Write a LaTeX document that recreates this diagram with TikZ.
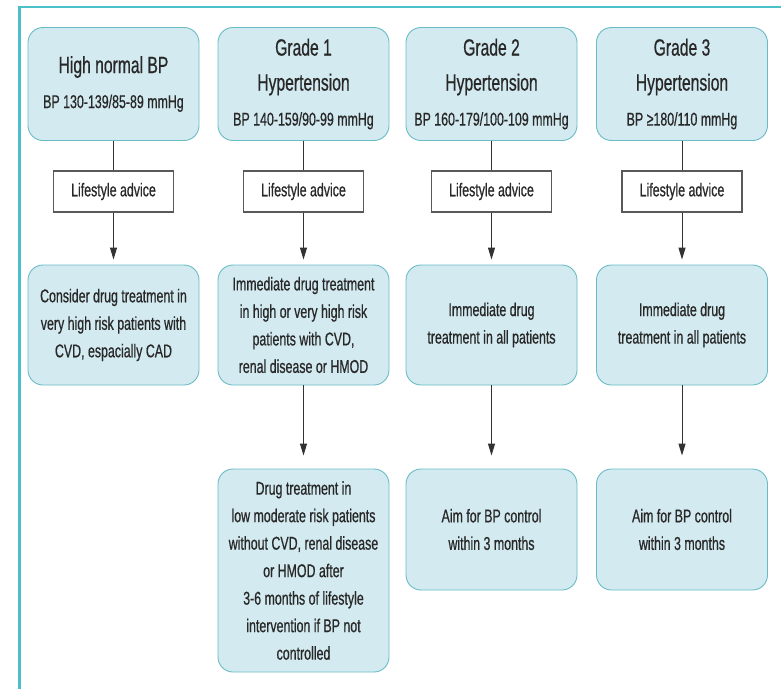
\documentclass[tikz,border=0pt]{standalone}
\usepackage{fontspec}
\setmainfont{Liberation Sans}[FakeStretch=0.67, FakeBold=0.6]
\usetikzlibrary{
    arrows.meta,
    positioning
}
\definecolor{boxfill}{RGB}{211, 234, 240}
\definecolor{boxline}{RGB}{105, 188, 198}
\definecolor{frameteal}{RGB}{75, 192, 202}
\definecolor{txtgray}{RGB}{40, 40, 40}
\newcommand{\bodyfont}{\fontsize{18.5}{27.5}\selectfont}
\newcommand{\headfont}{\fontsize{23.4}{35}\selectfont}

\begin{document}
\begin{tikzpicture}[
        x=1pt, y=-1pt,
        box/.style={rectangle, draw=boxline, fill=boxfill, line width=0.9pt, rounded corners=15pt, minimum width=171pt, align=center, text=txtgray, font=\bodyfont},
        head/.style={box, minimum height=113pt, font=\headfont},
        advice/.style={rectangle, draw=black!65, fill=white, line width=1.3pt, minimum width=120pt, minimum height=41pt, text=txtgray, font=\bodyfont},
        link/.style={line width=1pt, draw=black!80},
        arrow/.style={link, -{Triangle[length=12pt, width=7pt]}},
        frame/.style={line width=2.5pt, draw=frameteal}
    ]
        \useasboundingbox (0,0) rectangle (781,689);

        % Frame
        \draw[frame] (18,7) -- (781,7);
        \draw[frame] (19.5,5.8) -- (19.5,689);

        % Grades
        \node[head] (normal) at (113.5,84) {High normal BP\\{\bodyfont BP 130-139/85-89 mmHg}};
        \node[head] (g1) at (303.5,84) {Grade 1\\Hypertension\\{\bodyfont BP 140-159/90-99 mmHg}};
        \node[head] (g2) at (491.5,84) {Grade 2\\Hypertension\\{\bodyfont BP 160-179/100-109 mmHg}};
        \node[head] (g3) at (682,84) {Grade 3\\Hypertension\\{\bodyfont BP ≥180/110 mmHg}};

        % Lifestyle
        \node[advice] (adv0) at (113.5,191.5) {Lifestyle advice};
        \node[advice] (adv1) at (303.5,191.5) {Lifestyle advice};
        \node[advice] (adv2) at (491.5,191.5) {Lifestyle advice};
        \node[advice] (adv3) at (682,191.5) {Lifestyle advice};

        % Treatment
        \node[box, minimum height=120pt] (cons0) at (113.5,325) {Consider drug treatment in\\very high risk patients with\\CVD, espacially CAD};
        \node[box, minimum height=120pt] (imm1) at (303.5,325) {Immediate drug treatment\\in high or very high risk\\patients with CVD,\\renal disease or HMOD};
        \node[box, minimum height=120pt] (imm2) at (491.5,325) {Immediate drug\\treatment in all patients};
        \node[box, minimum height=120pt] (imm3) at (682,325) {Immediate drug\\treatment in all patients};

        % Follow-up
        \node[box, minimum height=203pt] (low1) at (303.5,570.5) {Drug treatment in\\low moderate risk patients\\without CVD, renal disease\\or HMOD after\\3-6 months of lifestyle\\intervention if BP not\\controlled};
        \node[box, minimum height=121pt] (aim2) at (491.5,529.5) {Aim for BP control\\within 3 months};
        \node[box, minimum height=121pt] (aim3) at (682,529.5) {Aim for BP control\\within 3 months};

        % Arrows
        \draw[link] (normal) -- (adv0);
        \draw[link] (g1) -- (adv1);
        \draw[link] (g2) -- (adv2);
        \draw[link] (g3) -- (adv3);
        \draw[arrow, shorten >=5pt] (adv0) -- (cons0);
        \draw[arrow, shorten >=5pt] (adv1) -- (imm1);
        \draw[arrow, shorten >=5pt] (adv2) -- (imm2);
        \draw[arrow, shorten >=5pt] (adv3) -- (imm3);
        \draw[arrow, shorten >=13pt] (imm1) -- (low1);
        \draw[arrow, shorten >=13pt] (imm2) -- (aim2);
        \draw[arrow, shorten >=13pt] (imm3) -- (aim3);
    \end{tikzpicture}
\end{document}
